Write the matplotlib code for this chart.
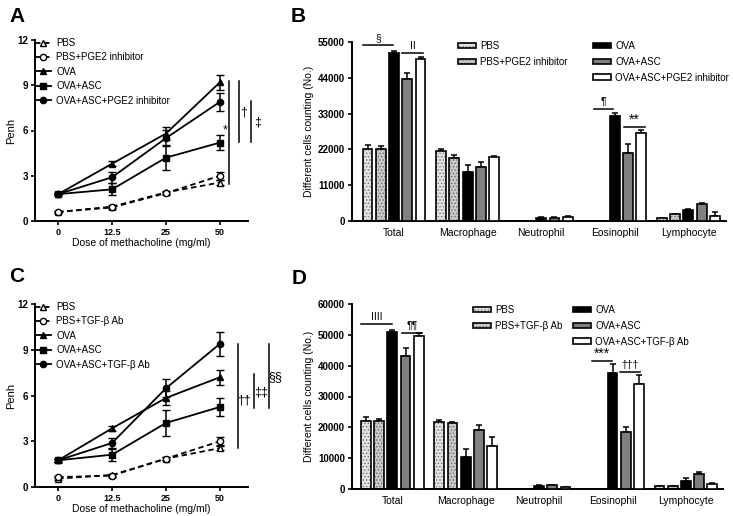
import numpy as np
import matplotlib.pyplot as plt
from matplotlib.patches import Patch
from matplotlib.lines import Line2D

plt.rcParams['font.family'] = ['Liberation Sans', 'DejaVu Sans']
plt.rcParams['hatch.linewidth'] = 0.6

# ---- data ----
doses = ['0', '12.5', '25', '50']

a_pbs = [0.6, 0.95, 1.9, 2.55]
a_pbs_err = [0.08, 0.08, 0.1, 0.15]
a_pbs_inh = [0.6, 0.9, 1.85, 3.0]
a_pbs_inh_err = [0.08, 0.08, 0.1, 0.25]
a_ova = [1.78, 3.8, 5.8, 9.2]
a_ova_err = [0.08, 0.15, 0.45, 0.5]
a_asc = [1.78, 2.1, 4.2, 5.2]
a_asc_err = [0.08, 0.4, 0.85, 0.5]
a_asc_inh = [1.78, 2.9, 5.5, 7.9]
a_asc_inh_err = [0.08, 0.35, 0.55, 0.6]

c_pbs = [0.55, 0.79, 1.86, 2.55]
c_pbs_err = [0.08, 0.08, 0.1, 0.15]
c_pbs_ab = [0.65, 0.75, 1.86, 3.0]
c_pbs_ab_err = [0.08, 0.1, 0.1, 0.25]
c_ova = [1.75, 3.85, 5.84, 7.2]
c_ova_err = [0.08, 0.15, 0.45, 0.5]
c_asc = [1.75, 2.12, 4.2, 5.25]
c_asc_err = [0.08, 0.4, 0.83, 0.6]
c_asc_ab = [1.75, 2.89, 6.48, 9.39]
c_asc_ab_err = [0.08, 0.35, 0.6, 0.8]

cells = ['Total', 'Macrophage', 'Neutrophil', 'Eosinophil', 'Lymphocyte']

b_pbs = [22100, 21400, 0, 0, 800]
b_pbs_err = [1300, 600, 0, 0, 100]
b_pbs_inh = [22000, 19250, 0, 0, 2050]
b_pbs_inh_err = [1000, 1000, 0, 0, 200]
b_ova = [51700, 15200, 1000, 32300, 3500]
b_ova_err = [600, 1900, 200, 900, 200]
b_asc = [43700, 16700, 1000, 21000, 5200]
b_asc_err = [1900, 1300, 300, 2700, 300]
b_asc_inh = [49800, 19700, 1300, 26900, 1400]
b_asc_inh_err = [700, 300, 300, 1000, 1500]

d_pbs = [22200, 21600, 0, 0, 850]
d_pbs_err = [1200, 900, 0, 0, 150]
d_pbs_ab = [22200, 21400, 0, 0, 850]
d_pbs_ab_err = [500, 400, 0, 0, 150]
d_ova = [51000, 10300, 1000, 37500, 2700]
d_ova_err = [700, 2600, 200, 3000, 900]
d_asc = [43200, 19000, 1200, 18600, 4800]
d_asc_err = [2400, 1600, 200, 1400, 800]
d_asc_ab = [49600, 14000, 600, 34000, 1600]
d_asc_ab_err = [1100, 2800, 150, 3000, 400]

W, H = 733, 516
fig = plt.figure(figsize=(7.33, 5.16), dpi=100)


def fx(px):
    return px / W


def fy(py):
    return 1 - py / H


def style_axes(ax):
    for s in ['top', 'right']:
        ax.spines[s].set_visible(False)
    for s in ['left', 'bottom']:
        ax.spines[s].set_linewidth(1.4)
    ax.tick_params(width=1.2, length=3, labelsize=7, pad=2)
    for lab in ax.get_yticklabels():
        lab.set_fontweight('bold')


def line_panel(rect, series, labels, legend_y0, sig_lines, sig_texts):
    ax = fig.add_axes(rect)
    x = np.arange(len(doses))
    styles = [('^', 'white', (3, 2)), ('o', 'white', (3, 2)),
              ('^', 'black', None), ('s', 'black', None), ('o', 'black', None)]
    handles = []
    for (vals, errs), (m, mfc, dash), lab in zip(series, styles, labels):
        ls = '--' if dash else '-'
        eb = ax.errorbar(x, vals, yerr=errs, color='black', lw=1.3, ls=ls,
                         marker=m, ms=4.5, mfc=mfc, mec='black', mew=1.0,
                         capsize=3, capthick=1.1, elinewidth=1.1)
        if dash:
            eb[0].set_dashes(dash)
        h = Line2D([], [], color='black', lw=1.3, ls=ls, marker=m, ms=4.5,
                   mfc=mfc, mec='black', mew=1.0)
        if dash:
            h.set_dashes(dash)
        handles.append(h)
    ax.set_xlim(-0.43, 3.52)
    ax.set_ylim(0, 12)
    ax.set_yticks([0, 3, 6, 9, 12])
    ax.set_xticks(x)
    ax.set_xticklabels(doses)
    style_axes(ax)
    ax.tick_params(axis='x', labelsize=6.5)
    for lab in ax.get_xticklabels():
        lab.set_fontweight('bold')
    ax.set_ylabel('Penh', fontsize=8, labelpad=1)
    ax.set_xlabel('Dose of methacholine (mg/ml)', fontsize=7.5, labelpad=1)
    fig.legend(handles, labels, loc='upper left',
               bbox_to_anchor=(fx(35), fy(legend_y0)), frameon=False,
               fontsize=7, handlelength=1.6, handletextpad=0.6,
               labelspacing=0.45, borderpad=0, borderaxespad=0)
    for xs, y0, y1 in sig_lines:
        ax.plot([xs, xs], [y0, y1], color='black', lw=1.1, clip_on=False)
    for xs, ys, t in sig_texts:
        ax.text(xs, ys, t, ha='center', va='center', fontsize=9, clip_on=False)
    return ax


def bar_panel(rect, series, errs, ymax, ystep, xlim, leg1, leg2, sig):
    ax = fig.add_axes(rect)
    x = np.arange(len(cells))
    offs = np.array([-2, -1, 0, 1, 2]) * 0.18
    bw = 0.135
    fills = [('#e4e4e4', '.....'), ('#c8c8c8', '.....'),
             ('black', None), ('#808080', None), ('white', None)]
    handles = []
    for i, (vals, err) in enumerate(zip(series, errs)):
        fc, hatch = fills[i]
        xs = x + offs[i]
        keep = np.array(vals) > 0
        ax.errorbar(xs[keep], np.array(vals)[keep],
                    yerr=[np.zeros(keep.sum()), np.array(err)[keep]],
                    fmt='none', ecolor='black', elinewidth=1.1,
                    capsize=2.5, capthick=1.1, zorder=1)
        if hatch:
            ax.bar(xs, vals, bw, color=fc, hatch=hatch, edgecolor='#707070',
                   lw=0, zorder=2)
            ax.bar(xs, vals, bw, fill=False, edgecolor='black', lw=1.2, zorder=3)
            h = (Patch(facecolor=fc, hatch=hatch, edgecolor='#707070', lw=0),
                 Patch(fill=False, edgecolor='black', lw=1.2))
        else:
            ax.bar(xs, vals, bw, color=fc, edgecolor='black', lw=1.2, zorder=3)
            h = Patch(facecolor=fc, edgecolor='black', lw=1.2)
        handles.append(h)
    ax.set_xlim(*xlim)
    ax.set_ylim(0, ymax)
    ax.set_yticks(np.arange(0, ymax + 1, ystep))
    ax.set_xticks(x)
    ax.set_xticklabels(cells, fontsize=7.5)
    style_axes(ax)
    ax.tick_params(axis='x', length=0, labelsize=7.5, pad=5)
    ax.set_ylabel('Different cells counting (No.)', fontsize=7.5, labelpad=3)
    for (names, idx, px, py) in (leg1, leg2):
        fig.legend([handles[k] for k in idx], names, loc='upper left',
                   bbox_to_anchor=(fx(px), fy(py)), frameon=False,
                   fontsize=7, handlelength=1.9, handleheight=0.5,
                   handletextpad=0.4, labelspacing=0.6, borderpad=0,
                   borderaxespad=0)
    for x0, x1, yl, t in sig:
        ax.plot([x0, x1], [yl, yl], color='black', lw=1.1, clip_on=False)
        big = '*' in t
        ax.text((x0 + x1) / 2, yl + ymax * (0.0 if big else 0.012), t,
                ha='center', va='bottom', fontsize=10 if big else 7.5,
                clip_on=False)
    return ax


# ---- A ----
line_panel([fx(35), fy(221), fx(213), fy(40) - fy(221)],
           [(a_pbs, a_pbs_err), (a_pbs_inh, a_pbs_inh_err), (a_ova, a_ova_err),
            (a_asc, a_asc_err), (a_asc_inh, a_asc_inh_err)],
           ['PBS', 'PBS+PGE2 inhibitor', 'OVA', 'OVA+ASC',
            'OVA+ASC+PGE2 inhibitor'],
           38,
           [(3.17, 2.45, 9.3), (3.35, 5.25, 9.3), (3.57, 5.25, 7.95)],
           [(3.09, 6.0, '*'), (3.44, 7.2, '†'), (3.70, 6.5, '‡')])

# ---- C ----
line_panel([fx(35), fy(487), fx(213), fy(304) - fy(487)],
           [(c_pbs, c_pbs_err), (c_pbs_ab, c_pbs_ab_err), (c_ova, c_ova_err),
            (c_asc, c_asc_err), (c_asc_ab, c_asc_ab_err)],
           ['PBS', 'PBS+TGF-β Ab', 'OVA', 'OVA+ASC', 'OVA+ASC+TGF-β Ab'],
           302,
           [(3.33, 2.55, 9.4), (3.63, 5.2, 7.4), (3.91, 5.2, 9.4)],
           [(3.44, 5.7, '††'), (3.77, 6.2, '‡‡'), (4.02, 7.2, '§§')])

# ---- B ----
bar_panel([fx(352), fy(221), fx(374), fy(42) - fy(221)],
          [b_pbs, b_pbs_inh, b_ova, b_asc, b_asc_inh],
          [b_pbs_err, b_pbs_inh_err, b_ova_err, b_asc_err, b_asc_inh_err],
          55000, 11000, (-0.571, 4.51),
          (['PBS', 'PBS+PGE2 inhibitor'], [0, 1], 458, 41),
          (['OVA', 'OVA+ASC', 'OVA+ASC+PGE2 inhibitor'], [2, 3, 4], 593, 41),
          [(-0.42, -0.01, 54000, '§'), (0.11, 0.39, 51600, 'II'),
           (2.72, 2.97, 34500, '¶'), (3.12, 3.41, 29000, '**')])

# ---- D ----
bar_panel([fx(352), fy(489), fx(371), fy(304) - fy(489)],
          [d_pbs, d_pbs_ab, d_ova, d_asc, d_asc_ab],
          [d_pbs_err, d_pbs_ab_err, d_ova_err, d_asc_err, d_asc_ab_err],
          60000, 10000, (-0.549, 4.505),
          (['PBS', 'PBS+TGF-β Ab'], [0, 1], 473, 305),
          (['OVA', 'OVA+ASC', 'OVA+ASC+TGF-β Ab'], [2, 3, 4], 573, 305),
          [(-0.42, 0.0, 53400, 'IIII'), (0.13, 0.40, 50700, '¶¶'),
           (2.72, 2.99, 41600, '***'), (3.10, 3.38, 38000, '†††')])

# panel letters
for t, px, py in [('A', 9, 16), ('B', 291, 16), ('C', 9, 276), ('D', 292, 278)]:
    fig.text(fx(px), fy(py), t, fontsize=15, fontweight='bold',
             ha='left', va='center')

fig.savefig('out.png', dpi=100)
